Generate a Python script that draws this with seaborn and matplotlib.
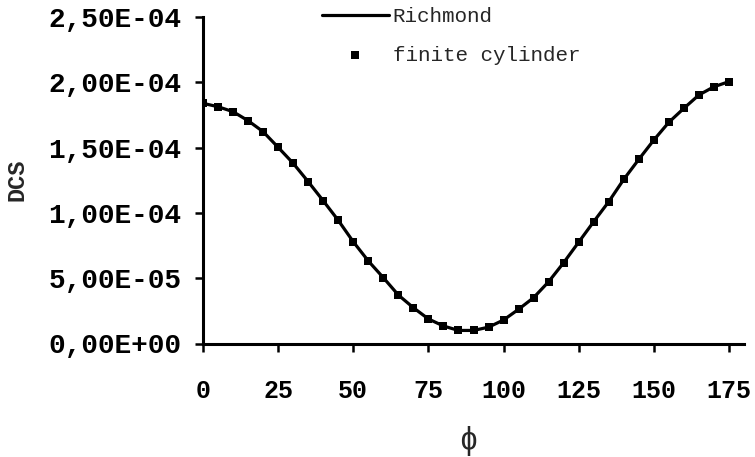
import matplotlib
matplotlib.use("Agg")
import matplotlib.pyplot as plt
import seaborn as sns
import pandas as pd

phi = [0, 5, 10, 15, 20, 25, 30, 35, 40, 45, 50, 55, 60, 65, 70, 75, 80, 85,
       90, 95, 100, 105, 110, 115, 120, 125, 130, 135, 140, 145, 150, 155, 160, 165, 170, 175]
richmond = [1.839e-4, 1.813e-4, 1.775e-4, 1.706e-4, 1.622e-4, 1.502e-4, 1.380e-4, 1.239e-4,
            1.093e-4, 0.943e-4, 0.779e-4, 0.632e-4, 0.504e-4, 0.371e-4, 0.274e-4, 0.188e-4,
            0.134e-4, 0.100e-4, 0.100e-4, 0.125e-4, 0.180e-4, 0.262e-4, 0.351e-4, 0.473e-4,
            0.619e-4, 0.776e-4, 0.933e-4, 1.086e-4, 1.257e-4, 1.410e-4, 1.558e-4, 1.694e-4,
            1.801e-4, 1.903e-4, 1.966e-4, 2.005e-4]
finite_cylinder = list(richmond)

x_ticks = [0, 25, 50, 75, 100, 125, 150, 175]
y_ticks = [0, 5e-5, 1e-4, 1.5e-4, 2e-4, 2.5e-4]
y_tick_labels = ["0,00E+00", "5,00E-05", "1,00E-04", "1,50E-04", "2,00E-04", "2,50E-04"]

sns.set_style("white")
plt.rcParams['font.family'] = ['Liberation Mono', 'DejaVu Sans Mono', 'DejaVu Sans']

df = pd.DataFrame({"phi": phi, "Richmond": richmond, "finite cylinder": finite_cylinder})

fig = plt.figure(figsize=(7.55, 4.57), dpi=100)
ax = fig.add_axes([203/755, 1 - 343.5/457, 541/755, (343.5 - 17)/457])

sns.lineplot(data=df, x="phi", y="Richmond", ax=ax, color="black", linewidth=2.3,
             label="Richmond", zorder=2)
sns.scatterplot(data=df, x="phi", y="finite cylinder", ax=ax, color="black", marker="s",
                s=30, edgecolor="black", linewidth=0, label="finite cylinder", zorder=3)

ax.set_xlim(0, 180)
ax.set_ylim(0, 2.5e-4)
ax.set_xticks(x_ticks)
ax.set_xticklabels([str(t) for t in x_ticks], fontsize=18, fontweight="bold")
ax.set_yticks(y_ticks)
ax.set_yticklabels(y_tick_labels, fontsize=20, fontweight="bold")

for s in ["top", "right"]:
    ax.spines[s].set_visible(False)
for s in ["left", "bottom"]:
    ax.spines[s].set_linewidth(2.2)
    ax.spines[s].set_color("black")

ax.tick_params(axis="x", direction="out", length=5.5, width=1.8, pad=20, colors="black")
ax.tick_params(axis="y", direction="out", length=5.5, width=1.8, pad=10, colors="black")
ax.tick_params(bottom=True, left=True)

ax.set_ylabel("DCS", fontsize=17, fontweight="bold")
ax.yaxis.set_label_coords(-0.344, 0.5)
ax.yaxis.label.set_va("center")
ax.set_xlabel("\u03d5", fontsize=22)
ax.xaxis.set_label_coords(0.49, -0.30)
ax.xaxis.label.set_va("center")

leg = ax.legend(loc="upper left", bbox_to_anchor=(322/755, 1 - 7/457),
                bbox_transform=fig.transFigure, frameon=False, fontsize=15,
                handlelength=3.2, handletextpad=0.2, labelspacing=0.95, borderpad=0,
                borderaxespad=0)

fig.savefig("out.png", dpi=100)
